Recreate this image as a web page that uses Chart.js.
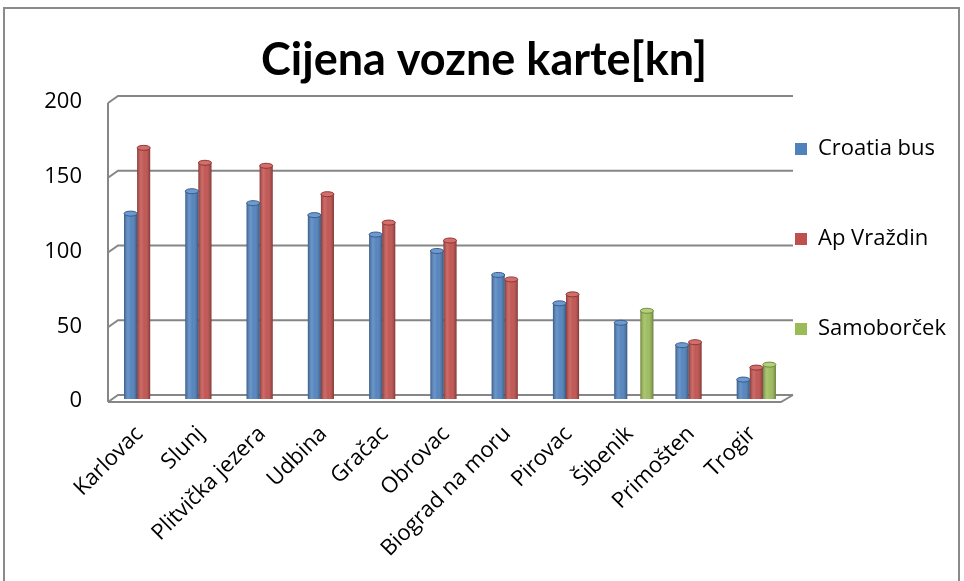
<!DOCTYPE html>
<html>
<head>
<meta charset="utf-8">
<script src="https://cdn.jsdelivr.net/npm/chart.js@4/dist/chart.umd.min.js"></script>
<style>
  html, body { margin: 0; padding: 0; background: #fff; }
  #wrap { position: relative; width: 964px; height: 581px; overflow: hidden; }
  #frame { position: absolute; left: 3px; top: 7px; width: 957px; height: 640px; border: 2px solid #8a8a8a; box-sizing: border-box; }
  canvas { position: absolute; left: 0; top: 0; }
</style>
</head>
<body>
<div id="wrap">
  <div id="frame"></div>
  <canvas id="c" width="964" height="581"></canvas>
</div>
<script>
const titleText = 'Cijena vozne karte[kn]';
const categories = ['Karlovac', 'Slunj', 'Plitvička jezera', 'Udbina', 'Gračac', 'Obrovac', 'Biograd na moru', 'Pirovac', 'Šibenik', 'Primošten', 'Trogir'];
const seriesNames = ['Croatia bus', 'Ap Vraždin', 'Samoborček'];
const croatiaBus = [124, 139, 131, 123, 110, 99, 83, 64, 51, 36, 13];
const apVrazdin = [168, 158, 156, 137, 118, 106, 80, 70, null, 38, 21];
const samoborcek = [null, null, null, null, null, null, null, null, 59, null, 23];
const yTicks = [0, 50, 100, 150, 200];

const fills = ['#4F81BD', '#C0504D', '#9BBB59'];
const caps = ['#6F9AD0', '#D46E6B', '#B3D07A'];
const edges = ['#385D8A', '#8C3836', '#71893F'];
const GRID = '#868686';

Chart.defaults.font.family = "'Open Sans', sans-serif";
Chart.defaults.color = '#000';

const frame3d = {
  id: 'frame3d',
  beforeDatasetsDraw(chart) {
    const ctx = chart.ctx, y = chart.scales.y, a = chart.chartArea;
    ctx.save();
    ctx.strokeStyle = GRID;
    ctx.lineWidth = 2;
    yTicks.forEach(v => {
      const py = y.getPixelForValue(v);
      ctx.beginPath();
      ctx.moveTo(a.left - 5, py + 3);
      ctx.lineTo(a.left + 5, py - 4);
      ctx.lineTo(a.right + 6, py - 4);
      ctx.stroke();
    });
    ctx.beginPath();
    ctx.moveTo(a.left - 5, y.getPixelForValue(200) + 3);
    ctx.lineTo(a.left - 5, y.getPixelForValue(0) + 3);
    ctx.stroke();
    ctx.restore();
  },
  afterDatasetsDraw(chart) {
    const ctx = chart.ctx, y = chart.scales.y, a = chart.chartArea;
    ctx.save();
    chart.data.datasets.forEach((ds, di) => {
      const meta = chart.getDatasetMeta(di);
      meta.data.forEach((bar, i) => {
        if (ds.data[i] === null || ds.data[i] === undefined) return;
        const w = bar.width, x0 = bar.x - w / 2;
        const g = ctx.createLinearGradient(x0, 0, x0 + w, 0);
        g.addColorStop(0, 'rgba(0,0,0,0.28)');
        g.addColorStop(0.3, 'rgba(255,255,255,0.16)');
        g.addColorStop(0.55, 'rgba(255,255,255,0.04)');
        g.addColorStop(1, 'rgba(0,0,0,0.32)');
        ctx.fillStyle = g;
        ctx.fillRect(x0, bar.y, w, bar.base - bar.y);
        ctx.beginPath();
        ctx.ellipse(bar.x, bar.y, w / 2, 2.5, 0, 0, Math.PI * 2);
        ctx.fillStyle = caps[di];
        ctx.fill();
        ctx.strokeStyle = edges[di];
        ctx.lineWidth = 1;
        ctx.stroke();
      });
    });
    const p0 = y.getPixelForValue(0);
    ctx.strokeStyle = GRID;
    ctx.lineWidth = 2;
    ctx.beginPath();
    ctx.moveTo(a.left - 5, p0 + 3);
    ctx.lineTo(a.right - 6, p0 + 3);
    ctx.lineTo(a.right + 6, p0 - 4);
    ctx.stroke();
    ctx.restore();
  }
};

const blank = () => ({ text: '', fillStyle: 'rgba(0,0,0,0)', strokeStyle: 'rgba(0,0,0,0)', lineWidth: 0, hidden: false, datasetIndex: -1 });

new Chart(document.getElementById('c'), {
  type: 'bar',
  data: {
    labels: categories,
    datasets: [
      { label: seriesNames[0], data: croatiaBus, backgroundColor: fills[0], borderWidth: 0 },
      { label: seriesNames[1], data: apVrazdin, backgroundColor: fills[1], borderWidth: 0 },
      { label: seriesNames[2], data: samoborcek, backgroundColor: fills[2], borderWidth: 0 }
    ]
  },
  options: {
    responsive: false,
    animation: false,
    layout: { padding: { left: 12, right: 8, top: 0, bottom: 0 } },
    datasets: { bar: { barPercentage: 1.0, categoryPercentage: 0.64 } },
    plugins: {
      title: {
        display: true,
        text: titleText,
        font: { family: 'Lato', size: 45, weight: 'bold' },
        color: '#000',
        padding: { top: 33, bottom: 13 }
      },
      legend: {
        position: 'right',
        align: 'start',
        fullSize: false,
        onClick: () => {},
        labels: {
          font: { size: 22 },
          color: '#000',
          boxWidth: 12,
          boxHeight: 12,
          padding: 8,
          generateLabels(chart) {
            const base = Chart.defaults.plugins.legend.labels.generateLabels(chart);
            return [blank(), base[0], blank(), blank(), base[1], blank(), blank(), base[2]];
          }
        }
      },
      tooltip: { enabled: false }
    },
    scales: {
      x: {
        grid: { display: false, drawTicks: false },
        border: { display: false },
        ticks: { font: { size: 22 }, color: '#000', maxRotation: 45, minRotation: 45, padding: 22, labelOffset: -4, autoSkip: false },
        afterFit(s) { s.height = 182; }
      },
      y: {
        min: 0, max: 200,
        grid: { display: false, drawTicks: false },
        border: { display: false },
        ticks: { stepSize: 50, font: { size: 22 }, color: '#000', padding: 31, labelOffset: 2 },
        afterFit(s) { s.width = 101; }
      }
    }
  },
  plugins: [frame3d]
});
</script>
</body>
</html>
